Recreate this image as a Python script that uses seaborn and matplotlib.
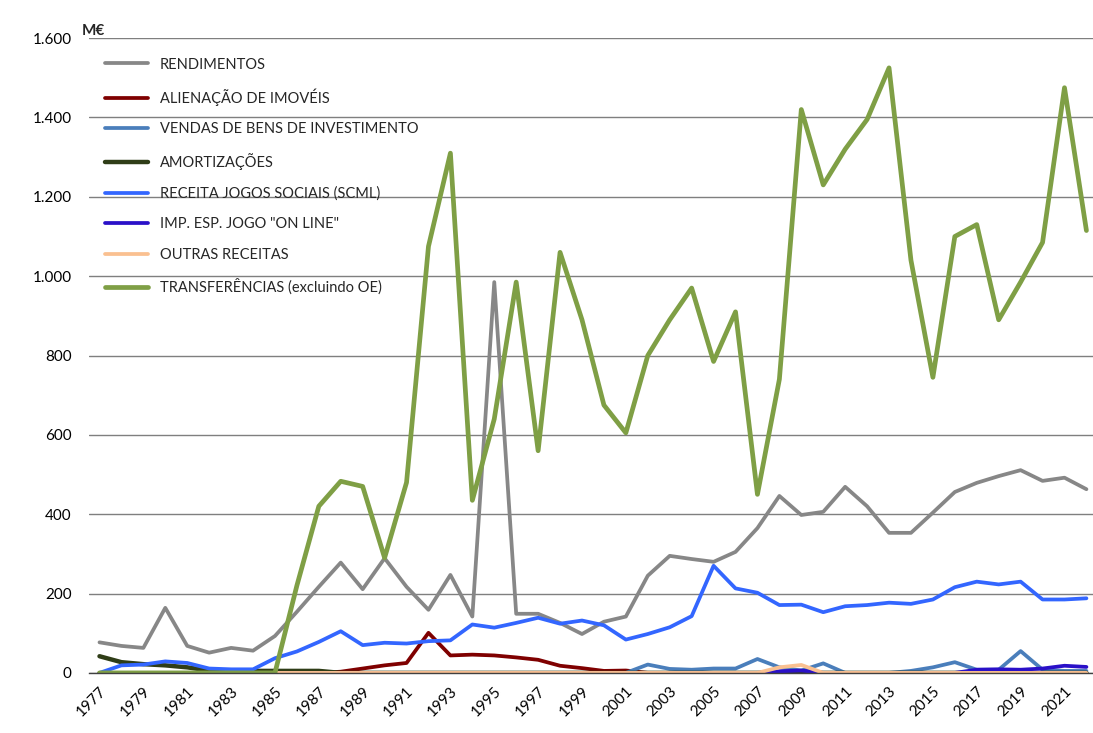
import matplotlib
matplotlib.use("Agg")
import matplotlib.pyplot as plt
import matplotlib.ticker as mticker
import seaborn as sns

years = list(range(1977, 2023))

rendimentos = [77, 68, 63, 164, 68, 51, 63, 56, 93, 154,
               217, 278, 211, 289, 217, 159, 247, 142, 985, 149,
               149, 126, 98, 129, 142, 245, 295, 287, 280, 305,
               365, 446, 398, 406, 469, 420, 353, 353, 404, 456,
               479, 496, 511, 484, 492, 463]
alienacao = [0] * 11 + [3, 11, 19, 25, 101, 44, 46, 44, 39, 33, 18, 12, 5, 6] + [0] * 21
vendas = [0] * 25 + [21, 10, 8, 11, 11, 35, 14, 6, 24, 0, 0, 0, 5, 14, 27, 8, 8, 55, 8, 5, 5]
amortizacoes = [42, 27, 22, 19, 14, 6, 5, 5, 5, 5, 5] + [0] * 35
jogos_sociais = [0, 19, 21, 29, 25, 11, 9, 9, 37, 54,
                 78, 105, 70, 76, 74, 80, 82, 122, 114, 126,
                 139, 124, 132, 120, 84, 98, 115, 143, 270, 213,
                 202, 171, 172, 153, 168, 171, 177, 174, 185, 216,
                 230, 223, 230, 185, 185, 188]
jogo_online = [0] * 31 + [4, 6, 0, 0, 0, 0, 0, 0, 0, 8, 9, 8, 11, 18, 15]
outras = [0] * 31 + [14, 20] + [0] * 13
transferencias = [0] * 9 + [220, 420, 483, 470, 290, 480, 1075, 1310, 435, 640,
                            985, 560, 1060, 890, 675, 605, 800, 890, 970, 785,
                            910, 450, 740, 1420, 1230, 1320, 1395, 1525, 1040, 745,
                            1100, 1130, 890, 985, 1085, 1475, 1115]

series = [
    ("RENDIMENTOS", rendimentos, "#878787", 2.7),
    ("ALIENAÇÃO DE IMOVÉIS", alienacao, "#7f0000", 2.7),
    ("VENDAS DE BENS DE INVESTIMENTO", vendas, "#4a7ebb", 2.7),
    ("AMORTIZAÇÕES", amortizacoes, "#2f3d17", 3.2),
    ("RECEITA JOGOS SOCIAIS (SCML)", jogos_sociais, "#3366ff", 2.7),
    ('IMP. ESP. JOGO "ON LINE"', jogo_online, "#2a10c8", 2.7),
    ("OUTRAS RECEITAS", outras, "#fac090", 2.7),
    ("TRANSFERÊNCIAS (excluindo OE)", transferencias, "#7f9f45", 3.4),
]

sns.set_theme(style="white")
plt.rcParams['font.family'] = ['Lato', 'DejaVu Sans']

fig = plt.figure(figsize=(10.93, 7.33), dpi=100)
ax = fig.add_axes([0.081, 0.082, 0.919, 0.866])

for name, vals, col, lw in series:
    sns.lineplot(x=years, y=vals, color=col, linewidth=lw, label=name, ax=ax,
                 solid_capstyle='round', solid_joinstyle='round')

ax.set_xlim(1976.5, 2022.3)
ax.set_ylim(0, 1600)
ax.yaxis.set_major_locator(mticker.MultipleLocator(200))
ax.yaxis.set_major_formatter(mticker.FuncFormatter(lambda v, p: f"{int(v):,}".replace(",", ".")))
ax.grid(axis='y', color='#7f7f7f', linewidth=1.0)
ax.set_axisbelow(True)

ax.set_xticks(years[::2])
ax.set_xticklabels([str(y) for y in years[::2]], rotation=45, ha='right',
                   rotation_mode='anchor', fontsize=11, color='black')
ax.set_xticks([y + 0.5 for y in range(1976, 2022)], minor=True)
ax.tick_params(axis='x', which='major', length=0, pad=8)
ax.tick_params(axis='x', which='minor', length=5, width=1, color='#404040', direction='out')
ax.tick_params(axis='y', length=0, labelsize=11, labelcolor='black', pad=12)

for s in ['top', 'right', 'left']:
    ax.spines[s].set_visible(False)
ax.spines['bottom'].set_color('#404040')
ax.spines['bottom'].set_linewidth(1.0)

ax.set_xlabel('')
ax.set_ylabel('')
fig.text(0.075, 0.958, "M€", fontsize=11, fontweight='bold', ha='left', va='center')

leg = ax.legend(loc='upper left', bbox_to_anchor=(0.003, 0.99), frameon=False,
                fontsize=10.5, labelspacing=1.14, handlelength=3.0, handletextpad=0.8)

fig.savefig("out.png", dpi=100)
